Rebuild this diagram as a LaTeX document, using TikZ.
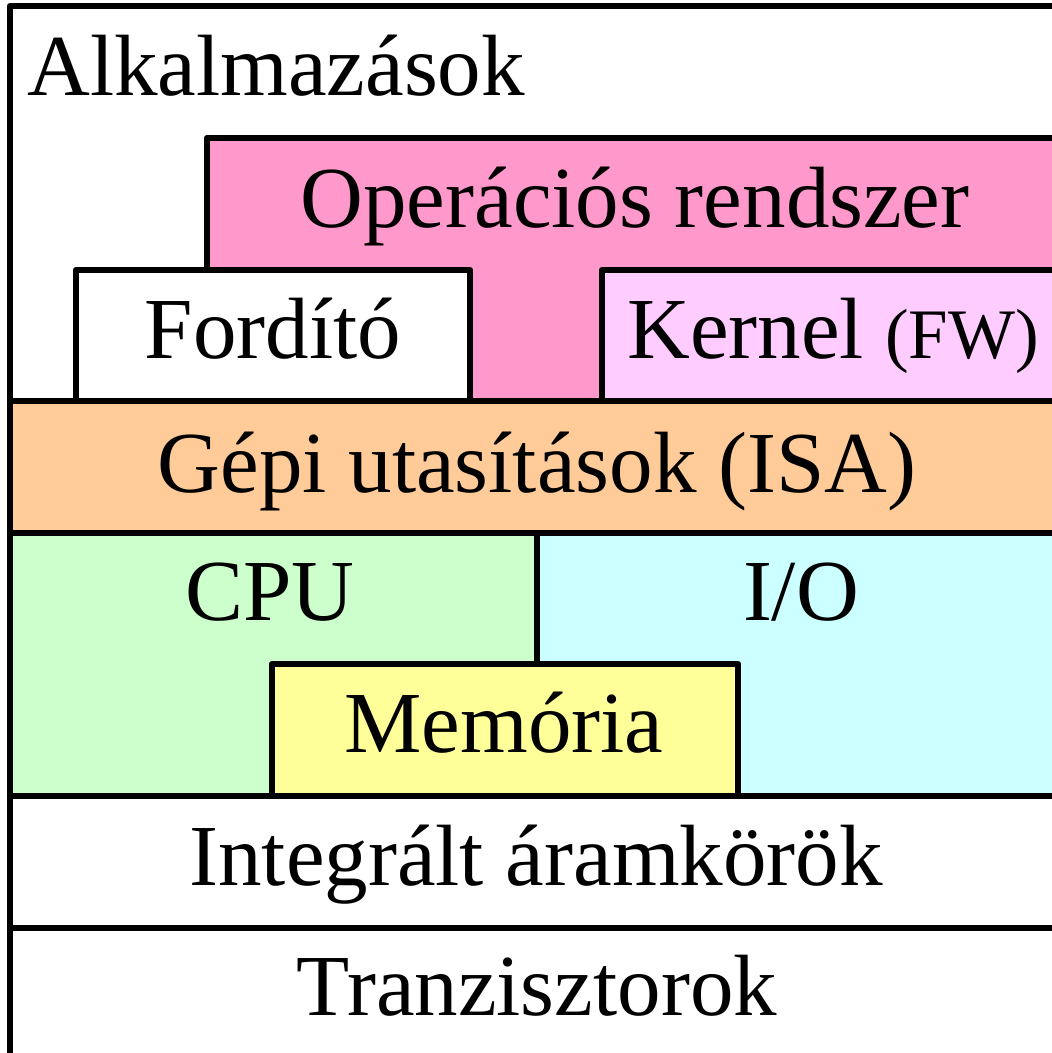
\documentclass[tikz,border=0pt]{standalone}
\usepackage{fontspec}
\setmainfont{Liberation Serif}
\definecolor{oppink}{HTML}{FF99CC}
\definecolor{kernpink}{HTML}{FFCCFF}
\definecolor{isaorange}{HTML}{FFCC99}
\definecolor{cpugreen}{HTML}{CCFFCC}
\definecolor{iocyan}{HTML}{CCFFFF}
\definecolor{memyellow}{HTML}{FFFF99}
\tikzset{
  layer/.style={draw=black, line width=6.5pt, line join=round},
  lbl/.style={anchor=base, inner sep=0pt, font=\fontsize{87}{90}\selectfont},
  smalllbl/.style={anchor=base, inner sep=0pt, font=\fontsize{71}{75}\selectfont}
}
\begin{document}
\begin{tikzpicture}[x=1pt,y=-1pt]
\useasboundingbox (0,0) rectangle (1052,1053);
\fill[white] (0,0) rectangle (1052,1053);
\clip (0,0) rectangle (1052,1053);
% outer application frame
\draw[layer, fill=white] (10,6) rectangle (1070,401);
\draw[layer, fill=oppink] (207,138) rectangle (1070,401);
\draw[layer, fill=white] (76,270) rectangle (470,401);
\draw[layer, fill=kernpink] (602,270) rectangle (1070,401);
% ISA
\draw[layer, fill=isaorange] (10,401) rectangle (1070,533);
% CPU / IO / memory
\draw[layer, fill=cpugreen] (10,533) rectangle (537,796);
\draw[layer, fill=iocyan] (537,533) rectangle (1070,796);
\draw[layer, fill=memyellow] (272,664) rectangle (738,796);
% IC and transistors
\draw[layer, fill=white] (10,796) rectangle (1070,928);
\draw[layer, fill=white] (10,928) rectangle (1070,1080);
% labels
\node[lbl, anchor=base west] (app) at (27,95) {Alkalmazások};
\node[lbl] (os) at (635,227) {Operációs rendszer};
\node[lbl] (comp) at (273,358) {Fordító};
\node[lbl, anchor=base west] (kern) at (627,358) {Kernel};
\node[smalllbl, anchor=base west] (fw) at (885,358) {(FW)};
\node[lbl] (isa) at (537,492) {Gépi utasítások (ISA)};
\node[lbl] (cpu) at (270,620) {CPU};
\node[lbl] (io) at (801,620) {I/O};
\node[lbl] (mem) at (504,752) {Memória};
\node[lbl] (ic) at (536,885) {Integrált áramkörök};
\node[lbl] (tr) at (537,1015) {Tranzisztorok};
\end{tikzpicture}
\end{document}
